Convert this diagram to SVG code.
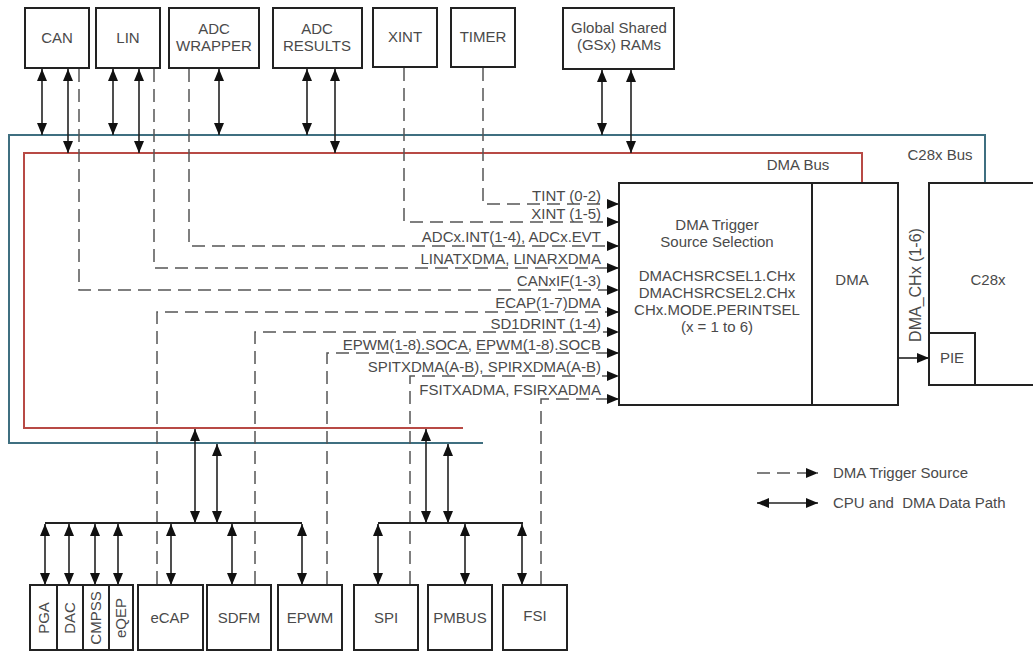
<svg xmlns="http://www.w3.org/2000/svg" width="1033" height="655" viewBox="0 0 1033 655">
<style>
text{font-family:"Liberation Sans",Arial,sans-serif;font-size:15px;fill:#4a4a4a}
.box{fill:#fff;stroke:#222;stroke-width:2}
.c{text-anchor:middle}
.e{text-anchor:end}
.bi{stroke:#222;stroke-width:1.6;fill:none;marker-start:url(#ah);marker-end:url(#ah)}
.uni{stroke:#222;stroke-width:1.6;fill:none;marker-end:url(#ah)}
.bar{stroke:#222;stroke-width:2;fill:none}
.dash{stroke:#555;stroke-width:1.5;fill:none;stroke-dasharray:13 7;marker-end:url(#ah)}
.c28{stroke:#3f6f80;stroke-width:2;fill:none}
.dmab{stroke:#b84a45;stroke-width:2;fill:none}
</style>
<defs>
<marker id="ah" viewBox="0 0 12 10" refX="12" refY="5" markerWidth="12" markerHeight="10" markerUnits="userSpaceOnUse" orient="auto-start-reverse">
<path d="M0,0 L12,5 L0,10 z" fill="#111"/>
</marker>
</defs>
<rect width="1033" height="655" fill="#fff"/>

<g id="buses">
<path class="c28" d="M483,443 H9 V135 H985 V183"/>
<path class="dmab" d="M463,428 H24 V153 H862 V183"/>
<text x="940" y="160" class="c">C28x Bus</text>
<text x="798" y="170" class="c">DMA Bus</text>
</g>

<g id="connectors">
<line class="bi" x1="42" y1="69" x2="42" y2="135"/>
<line class="bi" x1="68" y1="69" x2="68" y2="153"/>
<line class="bi" x1="113" y1="69" x2="113" y2="135"/>
<line class="bi" x1="139" y1="69" x2="139" y2="153"/>
<line class="bi" x1="219" y1="69" x2="219" y2="135"/>
<line class="bi" x1="307" y1="69" x2="307" y2="135"/>
<line class="bi" x1="335" y1="69" x2="335" y2="153"/>
<line class="bi" x1="602" y1="70" x2="602" y2="135"/>
<line class="bi" x1="631" y1="70" x2="631" y2="153"/>
<path class="dash" d="M483,68 V204 H619"/>
<path class="dash" d="M404,68 V222 H619"/>
<path class="dash" d="M189,69 V246 H619"/>
<path class="dash" d="M154,69 V268 H619"/>
<path class="dash" d="M79,69 V290 H619"/>
<path class="dash" d="M157,584 V312 H619"/>
<path class="dash" d="M255,584 V332 H619"/>
<path class="dash" d="M327,584 V353 H619"/>
<path class="dash" d="M410,584 V376 H619"/>
<path class="dash" d="M541,584 V399 H619"/>
<line class="uni" x1="898" y1="358" x2="929" y2="358"/>
<line class="bi" x1="195" y1="429" x2="195" y2="523"/>
<line class="bi" x1="217" y1="444" x2="217" y2="523"/>
<line class="bar" x1="45" y1="523" x2="302" y2="523"/>
<line class="bi" x1="45" y1="524" x2="45" y2="585"/>
<line class="bi" x1="69" y1="524" x2="69" y2="585"/>
<line class="bi" x1="95" y1="524" x2="95" y2="585"/>
<line class="bi" x1="118" y1="524" x2="118" y2="585"/>
<line class="bi" x1="171" y1="524" x2="171" y2="585"/>
<line class="bi" x1="232" y1="524" x2="232" y2="585"/>
<line class="bi" x1="302" y1="524" x2="302" y2="585"/>
<line class="bi" x1="426" y1="429" x2="426" y2="523"/>
<line class="bi" x1="448" y1="444" x2="448" y2="523"/>
<line class="bar" x1="378" y1="523" x2="523" y2="523"/>
<line class="bi" x1="378" y1="524" x2="378" y2="585"/>
<line class="bi" x1="465" y1="524" x2="465" y2="585"/>
<line class="bi" x1="522" y1="524" x2="522" y2="585"/>
</g>

<g id="trigger-labels">
<text x="601" y="201" class="e">TINT (0-2)</text>
<text x="601" y="219" class="e">XINT (1-5)</text>
<text x="601" y="242" class="e">ADCx.INT(1-4), ADCx.EVT</text>
<text x="601" y="264" class="e">LINATXDMA, LINARXDMA</text>
<text x="601" y="286" class="e">CANxIF(1-3)</text>
<text x="601" y="308" class="e">ECAP(1-7)DMA</text>
<text x="601" y="329" class="e">SD1DRINT (1-4)</text>
<text x="601" y="350" class="e">EPWM(1-8).SOCA, EPWM(1-8).SOCB</text>
<text x="601" y="372" class="e">SPITXDMA(A-B), SPIRXDMA(A-B)</text>
<text x="601" y="395" class="e">FSITXADMA, FSIRXADMA</text>
</g>

<g id="can"><rect class="box" x="25" y="8" width="64" height="60"/><text x="57" y="43" class="c">CAN</text></g>
<g id="lin"><rect class="box" x="96" y="8" width="64" height="60"/><text x="128" y="43" class="c">LIN</text></g>
<g id="adc-wrapper"><rect class="box" x="169" y="8" width="90" height="60"/><text x="214" y="34" class="c">ADC</text><text x="214" y="51" class="c">WRAPPER</text></g>
<g id="adc-results"><rect class="box" x="273" y="8" width="89" height="60"/><text x="317" y="34" class="c">ADC</text><text x="317" y="51" class="c">RESULTS</text></g>
<g id="xint"><rect class="box" x="373" y="8" width="64" height="59"/><text x="405" y="42" class="c">XINT</text></g>
<g id="timer"><rect class="box" x="451" y="8" width="64" height="59"/><text x="483" y="42" class="c">TIMER</text></g>
<g id="gsram"><rect class="box" x="563" y="8" width="111" height="61"/><text x="619" y="33" class="c">Global Shared</text><text x="619" y="50" class="c">(GSx) RAMs</text></g>

<g id="dma-trigger"><rect class="box" x="619" y="183" width="193" height="222"/>
<text x="717" y="230" class="c">DMA Trigger</text>
<text x="717" y="247" class="c">Source Selection</text>
<text x="717" y="281" class="c">DMACHSRCSEL1.CHx</text>
<text x="717" y="298" class="c">DMACHSRCSEL2.CHx</text>
<text x="717" y="315" class="c">CHx.MODE.PERINTSEL</text>
<text x="717" y="332" class="c">(x = 1 to 6)</text>
</g>
<g id="dma"><rect class="box" x="812" y="183" width="86" height="222"/><text x="852" y="285" class="c">DMA</text></g>
<g id="c28x"><rect class="box" x="929" y="183" width="120" height="202"/><text x="988" y="285" class="c">C28x</text></g>
<g id="pie"><rect class="box" x="929" y="333" width="46" height="52"/><text x="952" y="363" class="c">PIE</text></g>
<text transform="translate(921,285) rotate(-90)" class="c" style="font-size:16px">DMA_CHx (1-6)</text>

<g id="pga"><rect class="box" x="30" y="585" width="27" height="65"/><text transform="translate(49,618) rotate(-90)" class="c">PGA</text></g>
<g id="dac"><rect class="box" x="57" y="585" width="26" height="65"/><text transform="translate(75,618) rotate(-90)" class="c">DAC</text></g>
<g id="cmpss"><rect class="box" x="83" y="585" width="26" height="65"/><text transform="translate(101,618) rotate(-90)" class="c">CMPSS</text></g>
<g id="eqep"><rect class="box" x="109" y="585" width="24" height="65"/><text transform="translate(126,618) rotate(-90)" class="c">eQEP</text></g>
<g id="ecap"><rect class="box" x="138" y="585" width="65" height="65"/><text x="170" y="623" class="c">eCAP</text></g>
<g id="sdfm"><rect class="box" x="207" y="585" width="64" height="65"/><text x="239" y="623" class="c">SDFM</text></g>
<g id="epwm"><rect class="box" x="278" y="585" width="64" height="65"/><text x="310" y="623" class="c">EPWM</text></g>
<g id="spi"><rect class="box" x="354" y="585" width="64" height="65"/><text x="386" y="623" class="c">SPI</text></g>
<g id="pmbus"><rect class="box" x="428" y="585" width="64" height="65"/><text x="460" y="623" class="c">PMBUS</text></g>
<g id="fsi"><rect class="box" x="503" y="585" width="64" height="65"/><text x="535" y="621" class="c">FSI</text></g>

<g id="legend">
<path class="dash" d="M757,473 H818"/>
<text x="833" y="478">DMA Trigger Source</text>
<line class="bi" x1="757" y1="503" x2="818" y2="503"/>
<text x="833" y="508">CPU and&#160; DMA Data Path</text>
</g>
</svg>
